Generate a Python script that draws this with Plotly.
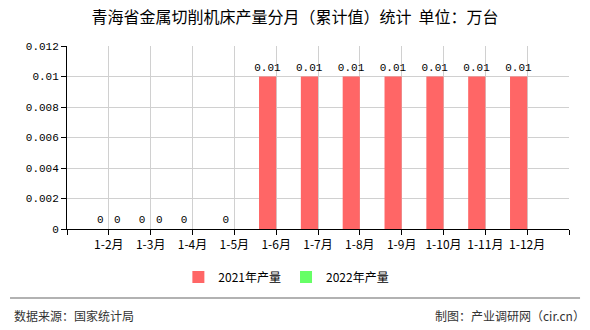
import plotly.graph_objects as go

categories = ["1-2月", "1-3月", "1-4月", "1-5月", "1-6月", "1-7月", "1-8月", "1-9月", "1-10月", "1-11月", "1-12月"]
values_2021 = [0, 0, 0, 0, 0.01, 0.01, 0.01, 0.01, 0.01, 0.01, 0.01]
values_2022 = [0, 0, None, None, None, None, None, None, None, None, None]
y_ticks = [0, 0.002, 0.004, 0.006, 0.008, 0.01, 0.012]
y_tick_labels = ["0", "0.002", "0.004", "0.006", "0.008", "0.01", "0.012"]

CJK = "Noto Sans CJK SC"
idx = list(range(len(categories)))

def fmt(v):
    if v is None:
        return ""
    return "0" if v == 0 else f"{v:g}"

label_font = dict(family="Liberation Mono", size=11, color="#000000")

fig = go.Figure()
fig.add_trace(go.Bar(
    x=idx, y=values_2021, name="2021年产量",
    marker=dict(color="#ff6666", line=dict(width=0)),
    width=0.41, offset=-0.41,
    text=[fmt(v) for v in values_2021], textposition="outside",
    textfont=label_font, outsidetextfont=label_font,
    constraintext="none", cliponaxis=False,
))
fig.add_trace(go.Bar(
    x=idx, y=values_2022, name="2022年产量",
    marker=dict(color="#66ff66", line=dict(width=0)),
    width=0.41, offset=0,
    text=[fmt(v) for v in values_2022], textposition="outside",
    textfont=label_font, outsidetextfont=label_font,
    constraintext="none", cliponaxis=False,
))

fig.update_layout(
    width=590, height=330,
    margin=dict(l=67, r=21, t=46, b=101),
    paper_bgcolor="white", plot_bgcolor="white",
    font=dict(family=CJK, size=12, color="#000"),
    barmode="overlay",
    showlegend=True,
    legend=dict(orientation="h", x=0.437, xanchor="center", y=-0.262, yanchor="middle",
                font=dict(family=CJK, size=12, color="#000"), itemwidth=30,
                traceorder="normal"),
    title=dict(text="青海省金属切削机床产量分月（累计值）统计  单位：万台",
               x=0.5, xanchor="center", y=0.948, yanchor="middle",
               font=dict(family=CJK, size=16, color="#000")),
)

fig.update_xaxes(
    range=[-1, len(categories)],
    tickvals=[-1] + idx + [len(categories)],
    ticktext=[""] + categories + [""],
    showgrid=True, gridcolor="#d0d0d0", gridwidth=1,
    showline=True, linecolor="#000", linewidth=1,
    ticks="outside", ticklen=5, tickcolor="#000",
    tickfont=dict(family=CJK, size=12, color="#000"),
    zeroline=False, fixedrange=True,
)
fig.update_yaxes(
    range=[0, 0.012],
    tickvals=y_ticks, ticktext=y_tick_labels,
    showgrid=True, gridcolor="#d0d0d0", gridwidth=1,
    showline=True, linecolor="#000", linewidth=1,
    ticks="outside", ticklen=5, tickcolor="#000",
    tickfont=dict(family="Liberation Mono", size=11, color="#000"),
    zeroline=False, fixedrange=True,
)

# footer
fig.add_shape(type="line", xref="paper", yref="paper",
              x0=-0.1135, x1=1.022, y0=-0.377, y1=-0.377,
              line=dict(color="#999999", width=1.5))
fig.add_annotation(text="数据来源：国家统计局", xref="paper", yref="paper",
                   x=-0.11, y=-0.475, xanchor="left", yanchor="middle",
                   showarrow=False, font=dict(family=CJK, size=12, color="#333333"))
fig.add_annotation(text="制图：产业调研网（cir.cn）", xref="paper", yref="paper",
                   x=1.035, y=-0.475, xanchor="right", yanchor="middle",
                   showarrow=False, font=dict(family=CJK, size=12, color="#333333"))

fig.write_html("out.html")
